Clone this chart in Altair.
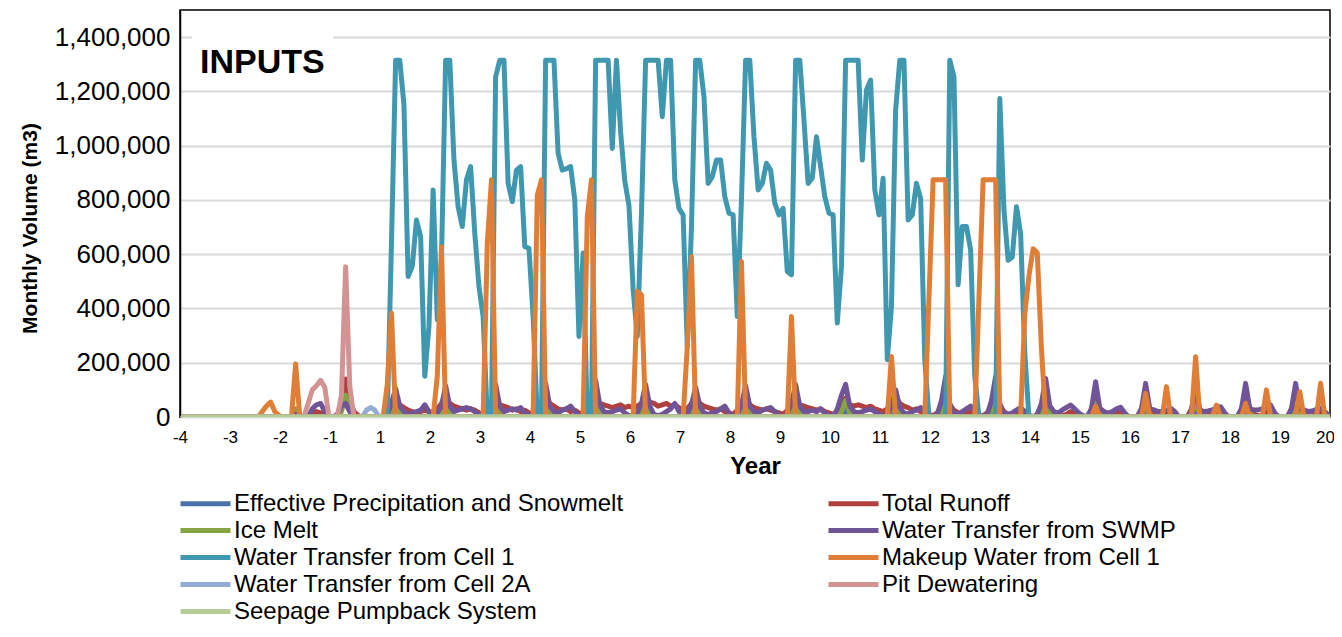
import altair as alt
import pandas as pd

# ---------------- data (monthly volumes, thousands of m3) ----------------
series_names = [
    "Effective Precipitation and Snowmelt",
    "Total Runoff",
    "Ice Melt",
    "Water Transfer from SWMP",
    "Water Transfer from Cell 1",
    "Makeup Water from Cell 1",
    "Water Transfer from Cell 2A",
    "Pit Dewatering",
    "Seepage Pumpback System",
]
series_colors = ["#4A72AA", "#B0413E", "#86A443", "#6F5597", "#3F98B0",
                 "#E07E37", "#94ABD3", "#D39392", "#B5CC94"]

x_tick_labels = ["-4", "-3", "-2", "-1", "1", "2", "3", "4", "5", "6", "7", "8",
                 "9", "10", "11", "12", "13", "14", "15", "16", "17", "18", "19", "20"]
y_ticks = [0, 200000, 400000, 600000, 800000, 1000000, 1200000, 1400000]

Z = [0] * 12

eff_precip_rows = [Z, Z, Z, Z,
    [0, 0, 8, 25, 8, 0, 0, 0, 0, 0, 0, 0], [0, 0, 6, 22, 6, 0, 0, 0, 0, 0, 0, 0],
    [0, 0, 8, 24, 8, 0, 0, 0, 0, 0, 0, 0], [0, 0, 7, 20, 7, 0, 0, 0, 0, 0, 0, 0],
    [0, 0, 9, 26, 9, 0, 0, 0, 0, 0, 0, 0], [0, 0, 6, 21, 6, 0, 0, 0, 0, 0, 0, 0],
    [0, 0, 8, 23, 8, 0, 0, 0, 0, 0, 0, 0], [0, 0, 7, 22, 7, 0, 0, 0, 0, 0, 0, 0],
    [0, 0, 8, 24, 8, 0, 0, 0, 0, 0, 0, 0], [0, 0, 9, 25, 9, 0, 0, 0, 0, 0, 0, 0],
    [0, 0, 7, 20, 7, 0, 0, 0, 0, 0, 0, 0], [0, 0, 8, 26, 8, 0, 0, 0, 0, 0, 0, 0],
    [0, 0, 8, 25, 8, 0, 0, 0, 0, 0, 0, 0], [0, 0, 7, 22, 7, 0, 0, 0, 0, 0, 0, 0],
    [0, 0, 6, 21, 6, 0, 0, 0, 0, 0, 0, 0], [0, 0, 5, 18, 5, 0, 0, 0, 0, 0, 0, 0],
    [0, 0, 6, 22, 6, 0, 0, 0, 0, 0, 0, 0], [0, 0, 6, 21, 6, 0, 0, 0, 0, 0, 0, 0],
    [0, 0, 6, 20, 6, 0, 0, 0, 0, 0, 0, 0]]

total_runoff_rows = [Z, Z,
    [0, 0, 0, 5, 0, 0, 0, 10, 20, 15, 5, 0],
    [0, 0, 60, 140, 60, 20, 5, 0, 0, 0, 0, 0],
    [0, 5, 30, 70, 45, 35, 25, 20, 15, 20, 25, 20],
    [15, 30, 50, 80, 50, 40, 35, 30, 25, 30, 25, 15],
    [10, 30, 50, 70, 45, 40, 35, 25, 30, 20, 25, 15],
    [10, 25, 50, 80, 50, 40, 30, 25, 30, 20, 25, 15],
    [10, 25, 45, 75, 50, 45, 40, 35, 40, 45, 35, 40],
    [35, 40, 50, 80, 55, 50, 40, 45, 50, 40, 45, 35],
    [20, 30, 50, 75, 50, 40, 35, 30, 25, 30, 20, 15],
    [10, 25, 45, 70, 45, 35, 30, 25, 30, 25, 20, 15],
    [10, 25, 45, 70, 45, 40, 35, 30, 25, 30, 20, 15],
    [10, 20, 45, 70, 45, 40, 45, 40, 35, 40, 30, 25],
    [20, 30, 50, 75, 50, 40, 35, 25, 30, 20, 15, 10],
    [5, 15, 40, 80, 45, 25, 15, 10, 15, 20, 10, 5],
    [5, 15, 40, 85, 40, 20, 10, 10, 15, 20, 10, 5],
    [0, 10, 40, 95, 40, 15, 5, 5, 10, 20, 10, 0],
    [0, 0, 30, 90, 30, 10, 5, 5, 15, 20, 10, 0],
    [0, 0, 30, 85, 30, 10, 5, 5, 10, 20, 10, 0],
    [0, 0, 30, 90, 30, 10, 5, 10, 15, 20, 5, 0],
    [0, 0, 30, 90, 30, 10, 5, 5, 15, 25, 10, 0],
    [0, 0, 30, 85, 30, 10, 5, 5, 10, 20, 10, 0]]

ice_melt_rows = [Z, Z,
    [0, 0, 0, 30, 0, 0, 0, 0, 0, 0, 0, 0],
    [0, 0, 20, 80, 20, 0, 0, 0, 0, 0, 0, 0],
    [0, 0, 20, 50, 15, 0, 0, 0, 0, 0, 0, 0], [0, 0, 15, 55, 15, 0, 0, 0, 0, 0, 0, 0],
    [0, 0, 15, 60, 15, 0, 0, 0, 0, 0, 0, 0], [0, 0, 20, 55, 15, 0, 0, 0, 0, 0, 0, 0],
    [0, 0, 15, 60, 20, 0, 0, 0, 0, 0, 0, 0], [0, 0, 15, 50, 15, 0, 0, 0, 0, 0, 0, 0],
    [0, 0, 20, 55, 15, 0, 0, 0, 0, 0, 0, 0], [0, 0, 15, 50, 15, 0, 0, 0, 0, 0, 0, 0],
    [0, 0, 15, 55, 15, 0, 0, 0, 0, 0, 0, 0], [0, 0, 20, 60, 15, 0, 0, 0, 0, 0, 0, 0],
    [0, 0, 30, 100, 20, 0, 0, 0, 0, 0, 0, 0], [0, 0, 20, 65, 20, 0, 0, 0, 0, 0, 0, 0],
    [0, 0, 20, 60, 15, 0, 0, 0, 0, 0, 0, 0], [0, 0, 15, 45, 15, 0, 0, 0, 0, 0, 0, 0],
    [0, 0, 15, 50, 15, 0, 0, 0, 0, 0, 0, 0], [0, 0, 10, 38, 10, 0, 0, 0, 0, 0, 0, 0],
    [0, 0, 15, 50, 15, 0, 0, 0, 0, 0, 0, 0], [0, 0, 15, 50, 15, 0, 0, 0, 0, 0, 0, 0],
    [0, 0, 15, 50, 15, 0, 0, 0, 0, 0, 0, 0]]

swmp_rows = [Z, Z,
    [0, 0, 0, 10, 0, 0, 0, 30, 45, 50, 20, 0],
    [0, 10, 40, 50, 20, 5, 0, 0, 0, 0, 0, 0],
    [0, 10, 50, 105, 40, 20, 10, 15, 20, 25, 45, 20],
    [10, 15, 40, 115, 40, 20, 25, 30, 35, 30, 20, 10],
    [5, 15, 40, 120, 40, 20, 25, 30, 25, 35, 15, 10],
    [0, 10, 45, 125, 40, 20, 15, 25, 30, 40, 20, 5],
    [0, 10, 50, 135, 45, 20, 15, 20, 25, 30, 15, 5],
    [0, 15, 50, 120, 40, 10, 5, 10, 20, 30, 50, 20],
    [5, 10, 45, 110, 40, 15, 10, 15, 20, 30, 40, 15],
    [0, 10, 45, 115, 40, 20, 15, 25, 30, 35, 20, 5],
    [0, 15, 50, 120, 40, 20, 20, 25, 20, 30, 15, 5],
    [0, 30, 80, 120, 40, 20, 15, 20, 25, 30, 20, 10],
    [5, 10, 40, 100, 35, 15, 10, 20, 25, 35, 15, 5],
    [0, 10, 60, 150, 50, 15, 10, 20, 30, 40, 20, 5],
    [0, 10, 60, 150, 50, 15, 10, 15, 25, 35, 20, 5],
    [0, 10, 50, 142, 40, 20, 14, 26, 35, 44, 30, 14],
    [5, 0, 30, 130, 32, 20, 14, 20, 30, 36, 15, 0],
    [0, 0, 30, 124, 30, 26, 20, 20, 25, 32, 20, 0],
    [0, 0, 25, 112, 25, 20, 22, 26, 32, 38, 15, 0],
    [0, 0, 30, 124, 30, 26, 26, 30, 38, 44, 15, 0],
    [0, 0, 30, 124, 30, 26, 20, 22, 28, 32, 20, 5]]

cell1_rows = [Z, Z, Z, Z,
    [0, 0, 640, 1315, 1315, 1150, 518, 555, 726, 665, 150, 334],
    [837, 358, 579, 1315, 1315, 947, 775, 702, 874, 923, 677, 481],
    [370, 0, 0, 1254, 1315, 1315, 861, 794, 910, 923, 628, 622],
    [370, 0, 0, 1315, 1315, 1315, 972, 910, 915, 923, 800, 297],
    [604, 0, 0, 1315, 1315, 1315, 1315, 990, 1315, 1050, 870, 780],
    [470, 297, 750, 1315, 1315, 1315, 1315, 1107, 1315, 1315, 874, 769],
    [745, 260, 700, 1315, 1315, 1180, 861, 886, 947, 947, 812, 751],
    [745, 370, 800, 1315, 1315, 1033, 837, 861, 935, 910, 788, 745],
    [769, 536, 524, 1315, 1315, 1094, 861, 880, 1033, 923, 812, 751],
    [745, 346, 555, 1315, 1315, 1315, 1315, 947, 1205, 1242, 837, 745],
    [880, 211, 407, 1131, 1315, 1315, 726, 745, 861, 806, 211, 0],
    [0, 0, 0, 0, 1315, 1254, 487, 702, 702, 616, 150, 0],
    [0, 0, 0, 0, 1174, 763, 578, 590, 775, 677, 234, 0],
    Z, Z, Z, Z, Z, Z]

makeup_rows = [Z,
    [0, 0, 0, 0, 0, 0, 0, 20, 40, 55, 20, 5],
    [0, 0, 0, 195, 0, 0, 0, 0, 0, 0, 0, 0],
    Z,
    [0, 120, 383, 0, 0, 0, 0, 0, 0, 0, 0, 0],
    [0, 150, 627, 0, 0, 0, 0, 0, 0, 0, 0, 0],
    [0, 640, 874, 0, 0, 0, 0, 0, 0, 0, 0, 0],
    [0, 818, 874, 0, 0, 0, 0, 0, 0, 0, 0, 0],
    [0, 739, 874, 0, 0, 0, 0, 0, 0, 0, 0, 0],
    [0, 463, 450, 0, 0, 0, 0, 0, 0, 0, 0, 0],
    [0, 260, 591, 0, 0, 0, 0, 0, 0, 0, 0, 0],
    [0, 0, 573, 0, 0, 0, 0, 0, 0, 0, 0, 0],
    [0, 0, 370, 0, 0, 0, 0, 0, 0, 0, 0, 0],
    Z,
    [0, 0, 223, 0, 0, 0, 0, 0, 0, 0, 0, 440],
    [874, 874, 874, 874, 0, 0, 0, 0, 0, 0, 0, 440],
    [874, 874, 874, 874, 0, 0, 0, 0, 0, 0, 380, 520],
    [620, 605, 250, 0, 0, 0, 0, 0, 0, 0, 0, 0],
    [0, 0, 0, 40, 0, 0, 0, 0, 0, 0, 0, 0],
    [0, 0, 0, 87, 0, 0, 0, 0, 112, 0, 0, 0],
    [0, 0, 0, 222, 0, 0, 0, 0, 44, 0, 0, 0],
    [0, 0, 0, 50, 0, 0, 0, 0, 100, 0, 0, 0],
    [0, 0, 0, 0, 93, 0, 0, 0, 0, 124, 0, 0]]

cell2a_rows = [Z, Z, Z,
    [0, 0, 0, 0, 0, 0, 0, 0, 25, 35, 25, 0]] + [Z] * 19

pit_rows = [Z, Z,
    [0, 0, 0, 0, 0, 0, 50, 100, 115, 135, 110, 0],
    [0, 0, 80, 554, 112, 0, 0, 0, 0, 0, 0, 0]] + [Z] * 19

seepage_rows = [Z] * 23

all_rows = [eff_precip_rows, total_runoff_rows, ice_melt_rows, swmp_rows, cell1_rows,
            makeup_rows, cell2a_rows, pit_rows, seepage_rows]

records = []
for name, rows in zip(series_names, all_rows):
    vals = [v for r in rows for v in r]
    for k, v in enumerate(vals):
        records.append({"series": name, "t": (k + 0.75) / 12.0, "volume": v * 1000})
df = pd.DataFrame(records)

FONT = "Liberation Sans"
label_expr = "[" + ",".join("'%s'" % s for s in x_tick_labels) + "][datum.value]"

lines = alt.Chart(df).mark_line(strokeWidth=5, clip=True, strokeJoin="round",
                                strokeCap="round").encode(
    x=alt.X("t:Q", scale=alt.Scale(domain=[0, 23], nice=False, zero=False),
            axis=alt.Axis(values=list(range(24)), labelExpr=label_expr, grid=False,
                          ticks=False, domain=False, labelFontSize=17, labelPadding=12,
                          labelFlush=False, labelOverlap=False, labelColor="black",
                          labelOffset={"condition": {"test": "datum.value >= 23",
                                                     "value": -5}, "value": 0},
                          title="Year", titleFontSize=24, titleFontWeight="bold",
                          titleColor="black", titleX=575, titleY=49,
                          titleBaseline="middle")),
    y=alt.Y("volume:Q", scale=alt.Scale(domain=[0, 1500000], nice=False),
            axis=alt.Axis(values=y_ticks, format=",d", grid=True, gridColor="#d9d9d9",
                          gridWidth=2, ticks=False, domainColor="black", domainWidth=1.5,
                          labelFontSize=26, labelPadding=10, labelFlush=False,
                          labelColor="black", title="Monthly Volume (m3)",
                          titleFontSize=21, titleFontWeight="bold", titleColor="black",
                          titleX=-150, titleY=218, titleBaseline="middle")),
    color=alt.Color("series:N", scale=alt.Scale(domain=series_names, range=series_colors),
                    sort=series_names,
                    legend=alt.Legend(title=None, orient="none", legendX=13, legendY=481,
                                      direction="horizontal", columns=2,
                                      columnPadding=194, rowPadding=2,
                                      padding=0, labelFontSize=24, labelFont=FONT,
                                      labelColor="black", labelLimit=1000,
                                      labelOffset=16, symbolType="M-2.5,0H2.5",
                                      symbolSize=400, symbolStrokeWidth=5)),
)

box = alt.Chart(pd.DataFrame({"a": [0]})).mark_rect(color="white").encode(
    x=alt.value(12), x2=alt.value(153), y=alt.value(22), y2=alt.value(76))

title_txt = alt.Chart(pd.DataFrame({"label": ["INPUTS"]})).mark_text(
    align="left", baseline="alphabetic", fontSize=34, fontWeight="bold", font=FONT,
    color="black").encode(text="label:N", x=alt.value(20), y=alt.value(63))

chart = alt.layer(lines, box, title_txt).properties(
    width=1150, height=407,
    autosize=alt.AutoSizeParams(type="none"),
    padding={"left": 172, "top": 2, "right": 4, "bottom": 207},
).configure(font=FONT).configure_view(stroke="black", strokeWidth=1.5)

chart.save("out.html", embed_options={"renderer": "svg", "actions": False})
